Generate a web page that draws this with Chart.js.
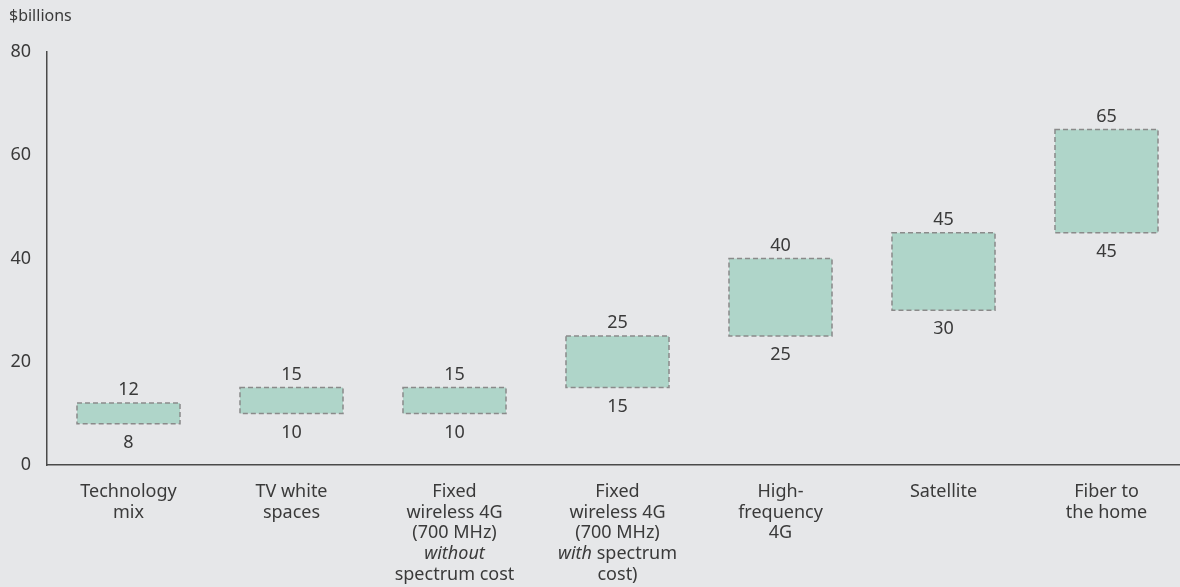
<!DOCTYPE html>
<html>
<head>
<meta charset="utf-8">
<script src="https://cdn.jsdelivr.net/npm/chart.js@4"></script>
<style>
  html, body { margin: 0; padding: 0; background: #e6e7e9; overflow: hidden; }
  #wrap { width: 1188px; height: 587px; position: relative; }
</style>
</head>
<body>
<div id="wrap"><canvas id="c"></canvas></div>
<script>
// Cost range per technology, $billions
const categories = [
  "Technology mix",
  "TV white spaces",
  "Fixed wireless 4G (700 MHz) without spectrum cost",
  "Fixed wireless 4G (700 MHz) with spectrum cost)",
  "High-frequency 4G",
  "Satellite",
  "Fiber to the home"
];
// Wrapped axis labels; _word_ marks italic text
const categoryLines = [
  ["Technology", "mix"],
  ["TV white", "spaces"],
  ["Fixed", "wireless 4G", "(700 MHz)", "_without_", "spectrum cost"],
  ["Fixed", "wireless 4G", "(700 MHz)", "_with_ spectrum", "cost)"],
  ["High-", "frequency", "4G"],
  ["Satellite"],
  ["Fiber to", "the home"]
];
const lowValues  = [8, 10, 10, 15, 25, 30, 45];
const highValues = [12, 15, 15, 25, 40, 45, 65];
const yTicks = [0, 20, 40, 60, 80];

const FONT = '"Noto Sans", sans-serif';
const SIZE = 18;
const TEXT = '#3a3a3a';

// Dashed outline plus low/high value labels on each floating bar
const barDecor = {
  id: 'barDecor',
  afterDatasetsDraw(chart) {
    const ctx = chart.ctx;
    const meta = chart.getDatasetMeta(0);
    ctx.save();
    meta.data.forEach((bar, i) => {
      const p = bar.getProps(['x', 'y', 'base', 'width'], true);
      const left = p.x - p.width / 2;
      const top = Math.min(p.y, p.base);
      const bottom = Math.max(p.y, p.base);
      ctx.setLineDash([5, 3]);
      ctx.lineWidth = 1.5;
      ctx.strokeStyle = '#8a8a8a';
      ctx.strokeRect(left, top, p.width, bottom - top);
      ctx.setLineDash([]);
      ctx.fillStyle = TEXT;
      ctx.font = SIZE + 'px ' + FONT;
      ctx.textAlign = 'center';
      ctx.textBaseline = 'middle';
      ctx.fillText(String(highValues[i]), p.x, top - 13);
      ctx.fillText(String(lowValues[i]), p.x, bottom + 19);
    });
    ctx.restore();
  }
};

// Category labels with inline italics, and the unit caption
const axisText = {
  id: 'axisText',
  afterDraw(chart) {
    const ctx = chart.ctx;
    const xs = chart.scales.x;
    const base = chart.chartArea.bottom;
    ctx.save();
    ctx.fillStyle = TEXT;
    ctx.textBaseline = 'middle';
    categoryLines.forEach((lines, i) => {
      const cx = xs.getPixelForValue(i);
      lines.forEach((line, k) => {
        const segs = line.split(/(_[^_]+_)/).filter(s => s.length).map(s =>
          s.startsWith('_') ? { t: s.slice(1, -1), it: true } : { t: s, it: false });
        let total = 0;
        segs.forEach(s => {
          ctx.font = (s.it ? 'italic ' : '') + SIZE + 'px ' + FONT;
          s.w = ctx.measureText(s.t).width;
          total += s.w;
        });
        let x = cx - total / 2;
        const y = base + 27 + k * 20.6;
        ctx.textAlign = 'left';
        segs.forEach(s => {
          ctx.font = (s.it ? 'italic ' : '') + SIZE + 'px ' + FONT;
          ctx.fillText(s.t, x, y);
          x += s.w;
        });
      });
    });
    ctx.font = '16px ' + FONT;
    ctx.textAlign = 'left';
    ctx.fillText('$billions', 9, 16);
    ctx.restore();
  }
};

new Chart(document.getElementById('c'), {
  type: 'bar',
  data: {
    labels: categories,
    datasets: [{
      data: lowValues.map((v, i) => [v, highValues[i]]),
      backgroundColor: '#afd5c9',
      borderWidth: 0,
      barPercentage: 0.632,
      categoryPercentage: 1
    }]
  },
  options: {
    responsive: true,
    maintainAspectRatio: false,
    animation: false,
    layout: { padding: { top: 52, right: 0, left: 0, bottom: 0 } },
    plugins: { legend: { display: false }, tooltip: { enabled: false } },
    scales: {
      x: {
        grid: { display: false, drawTicks: false },
        border: { display: true, color: '#4a4a4a', width: 1.5 },
        ticks: { display: false },
        afterFit(scale) { scale.height = 122; }
      },
      y: {
        min: 0,
        max: 80,
        grid: { display: false, drawTicks: false },
        border: { display: true, color: '#4a4a4a', width: 1.5 },
        afterBuildTicks(scale) { scale.ticks = yTicks.map(v => ({ value: v })); },
        ticks: {
          padding: 16,
          color: TEXT,
          font: { family: FONT, size: SIZE }
        },
        afterFit(scale) { scale.width = 47; }
      }
    }
  },
  plugins: [barDecor, axisText]
});
</script>
</body>
</html>
